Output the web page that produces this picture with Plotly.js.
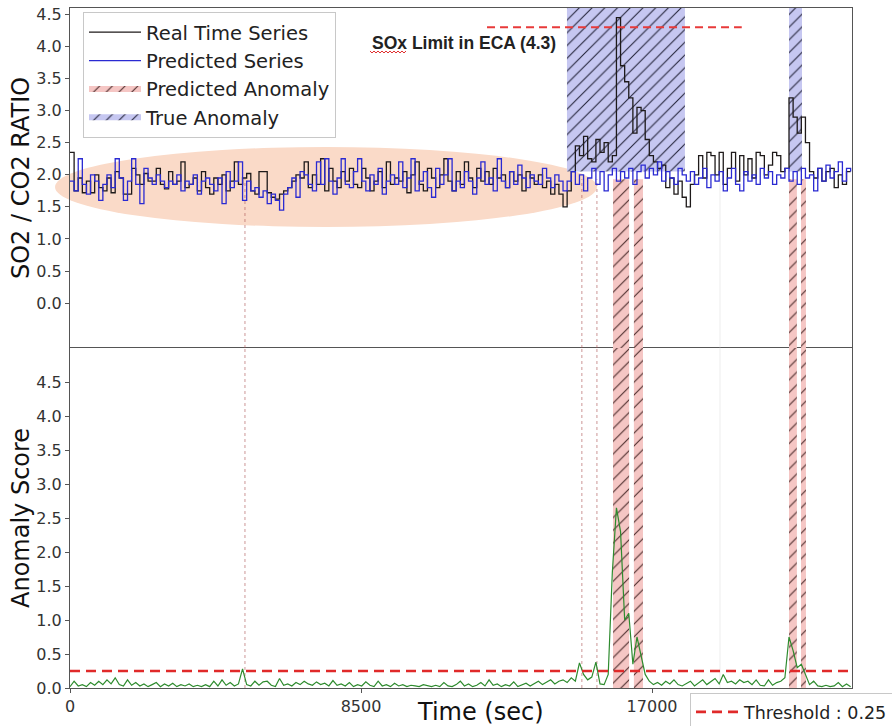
<!DOCTYPE html>
<html>
<head>
<meta charset="utf-8">
<script src="https://cdn.plot.ly/plotly-3.0.1.min.js"></script>
<style>
  html, body { margin: 0; padding: 0; background: #fff; }
  #chart { width: 892px; height: 726px; }
</style>
</head>
<body>
<div id="chart"></div>
<script>
// Sampling interval of the SO2/CO2 logger (seconds between readings)
const SAMPLE_SEC = 120;

// Measured SO2/CO2 ratio
const realSeries = [
  2.35, 1.75, 1.95, 1.72, 1.9, 1.72, 2.0, 1.8, 1.75, 1.95,
  1.72, 2.05, 1.95, 1.7, 1.7, 2.1, 2.0, 1.85, 2.02, 1.9,
  1.9, 2.1, 1.85, 1.78, 2.05, 1.85, 1.9, 2.2, 1.8, 1.85,
  1.95, 1.75, 2.05, 1.8, 1.7, 1.95, 1.85, 2.0, 1.75, 1.9,
  2.2, 1.85, 1.95, 2.02, 1.75, 1.7, 2.05, 2.05, 1.72, 1.65,
  1.62, 1.7, 1.75, 1.8, 1.9, 2.0, 1.95, 2.2, 1.8, 2.0,
  1.85, 2.25, 1.75, 2.1, 1.9, 1.8, 2.05, 1.9, 2.1, 1.85,
  1.8, 2.1, 1.95, 1.75, 1.9, 2.05, 1.8, 2.2, 1.85, 1.95,
  1.9, 2.05, 1.72, 2.0, 2.2, 1.85, 1.75, 2.1, 1.95, 1.8,
  2.0, 2.25, 1.9, 1.75, 2.05, 1.85, 2.2, 1.95, 1.8, 2.1,
  1.9, 2.05, 1.85, 2.1, 1.95, 2.0, 1.8, 2.05, 1.9, 2.0,
  1.75, 2.05, 1.95, 1.85, 2.0, 1.8, 1.9, 1.7, 1.85, 1.7,
  1.5, 1.75, 2.05, 2.45, 2.3, 2.6, 2.25, 2.2, 2.55, 2.35,
  2.5, 2.2, 2.3, 4.45, 3.7, 3.45, 3.2, 2.65, 3.05, 3.0,
  2.55, 2.3, 2.2, 2.1, 2.15, 1.8, 1.95, 1.7, 1.9, 1.65,
  1.5, 1.85, 2.0, 2.3, 1.95, 2.35, 2.3, 2.0, 2.35, 1.85,
  2.1, 2.35, 1.9, 2.3, 2.0, 2.25, 1.95, 2.35, 2.3, 2.0,
  2.15, 2.35, 2.3, 2.05, 2.1, 3.2, 2.9, 2.65, 2.9, 2.5,
  2.05, 1.95, 2.1, 1.9, 2.05, 2.1, 1.8, 2.0, 1.85, 2.05, 2.05
];

// Model prediction of the ratio
const predictedSeries = [
  1.9, 1.75, 2.25, 1.85, 1.7, 2.0, 1.9, 1.6, 1.85, 2.0,
  1.8, 2.25, 1.95, 1.6, 1.9, 2.25, 1.85, 1.55, 2.1, 1.95,
  1.85, 2.0, 1.9, 1.8, 1.9, 1.85, 2.0, 1.75, 1.9, 1.85,
  2.0, 1.7, 1.9, 1.95, 1.85, 1.75, 1.95, 1.55, 2.05, 1.8,
  1.9, 2.2, 1.6, 1.9, 1.75, 1.8, 1.65, 1.75, 1.55, 1.7,
  1.6, 1.45, 1.7, 1.8, 1.95, 1.65, 2.05, 2.0, 1.85, 1.75,
  2.2, 1.85, 2.25, 1.9, 1.7, 1.95, 2.25, 1.85, 1.8, 2.05,
  2.25, 1.9, 1.75, 2.0, 1.85, 2.1, 1.7, 1.9, 2.0, 1.85,
  2.2, 1.8, 1.95, 2.25, 1.75, 1.9, 2.05, 1.8, 1.65, 2.1,
  1.85, 2.0, 2.25, 1.75, 1.9, 1.8, 2.05, 1.9, 1.7, 1.95,
  2.2, 1.85, 1.95, 1.75, 2.25, 1.9, 1.8, 2.05, 1.85, 2.15,
  1.95, 1.8, 2.0, 1.9, 1.85, 2.1, 1.95, 1.8, 2.0, 1.9,
  1.75, 1.9, 2.05, 1.85, 2.0, 1.75, 1.95, 2.1, 1.85, 2.05,
  1.75, 2.0, 2.1, 1.9, 2.05, 1.95, 2.1, 1.85, 2.05, 2.15,
  1.95, 2.1, 2.0, 2.2, 1.9, 2.05, 1.95, 1.85, 2.1, 2.0,
  1.9, 2.05, 1.85, 1.95, 2.1, 1.8, 2.0, 1.9, 2.05, 1.75,
  1.95, 2.1, 1.85, 1.75, 2.05, 1.9, 2.0, 1.85, 2.1, 1.95,
  2.05, 1.85, 2.0, 1.95, 2.1, 1.9, 2.05, 1.85, 2.1, 1.95,
  2.0, 1.75, 2.1, 1.9, 2.15, 1.95, 2.05, 2.2, 1.9, 2.1, 2.05
];

// Reconstruction-based anomaly score
const anomalyScore = [
  0.02, 0.1, 0.03, 0.05, 0.02, 0.08, 0.04, 0.1, 0.05, 0.12,
  0.06, 0.15, 0.05, 0.03, 0.12, 0.04, 0.08, 0.03, 0.06, 0.02,
  0.05, 0.08, 0.02, 0.06, 0.03, 0.07, 0.02, 0.05, 0.03, 0.06,
  0.02, 0.04, 0.02, 0.05, 0.02, 0.1, 0.03, 0.12, 0.04, 0.08,
  0.03, 0.06, 0.28, 0.05, 0.03, 0.1, 0.04, 0.09, 0.1, 0.04,
  0.02, 0.14, 0.04, 0.06, 0.03, 0.08, 0.05, 0.1, 0.06, 0.04,
  0.09, 0.05, 0.07, 0.03, 0.11, 0.04, 0.06, 0.03, 0.08, 0.02,
  0.05, 0.03, 0.09, 0.04, 0.02, 0.1, 0.03, 0.05, 0.02, 0.07,
  0.03, 0.05, 0.02, 0.04, 0.03, 0.02, 0.05, 0.03, 0.02, 0.04,
  0.02, 0.08, 0.03, 0.02, 0.05, 0.1, 0.03, 0.06, 0.02, 0.04,
  0.08, 0.03, 0.12, 0.04, 0.06, 0.02, 0.05, 0.03, 0.09, 0.02,
  0.04, 0.07, 0.03, 0.06, 0.1, 0.05, 0.08, 0.12, 0.06, 0.1,
  0.12, 0.08, 0.15, 0.1, 0.37, 0.2, 0.12, 0.16, 0.38, 0.06,
  0.05, 0.2, 1.7, 2.65, 2.3, 1.0, 1.1, 0.35, 0.75, 0.45,
  0.2, 0.1, 0.05, 0.08, 0.04, 0.1, 0.06, 0.12, 0.05, 0.03,
  0.06, 0.1, 0.03, 0.08, 0.12, 0.05, 0.1, 0.14, 0.06, 0.2,
  0.08, 0.1, 0.06, 0.12, 0.08, 0.1, 0.05, 0.12, 0.04, 0.03,
  0.12, 0.04, 0.08, 0.1, 0.15, 0.75, 0.55, 0.3, 0.35, 0.2,
  0.05, 0.1, 0.03, 0.02, 0.04, 0.02, 0.03, 0.08, 0.02, 0.06, 0.02
];

// Labelled and detected anomaly windows, [start, end] in seconds
const trueAnomalySpans = [[14515, 17960], [21000, 21380]];
const predictedAnomalySpans = [[15860, 16330], [16470, 16735], [21000, 21230], [21350, 21495]];
// Single-sample detections
const flaggedPoints = [5110, 14950, 15390];
const faintMarks = [18985];

const SOX_LIMIT = 4.3;
const soxLimitExtent = [12180, 19620];
const THRESHOLD = 0.25;

const xTicks = [0, 8500, 17000];
const ratioTicks = [0, 0.5, 1.0, 1.5, 2.0, 2.5, 3.0, 3.5, 4.0, 4.5];
const scoreTicks = [0, 0.5, 1.0, 1.5, 2.0, 2.5, 3.0, 3.5, 4.0, 4.5];

// ---- layout constants ----
const RATIO_RANGE = [-0.70, 4.60];
const SCORE_RANGE = [0, 5.0];
const X_RANGE = [0, 22840];
const TRUE_SPAN_FLOOR = 2.05;
const PRED_SPAN_TOP = 1.93;
const FONT = 'DejaVu Sans, Verdana, sans-serif';

const timeSec = realSeries.map((_, i) => i * SAMPLE_SEC);

// closed rectangles separated by gaps, for fill:'toself'
function spanPolys(spans, lo, hi) {
  const x = [], y = [];
  spans.forEach(([a, b]) => {
    x.push(a, a, b, b, a, null);
    y.push(lo, hi, hi, lo, lo, null);
  });
  return { x, y };
}
function vLines(xs, lo, hi) {
  const x = [], y = [];
  xs.forEach(t => { x.push(t, t, null); y.push(lo, hi, null); });
  return { x, y };
}

const trueTop = spanPolys(trueAnomalySpans, TRUE_SPAN_FLOOR, RATIO_RANGE[1]);
const predTop = spanPolys(predictedAnomalySpans, RATIO_RANGE[0], PRED_SPAN_TOP);
const predBottom = spanPolys(predictedAnomalySpans, SCORE_RANGE[0], SCORE_RANGE[1]);
const flagTop = vLines(flaggedPoints, RATIO_RANGE[0], PRED_SPAN_TOP);
const flagBottom = vLines(flaggedPoints, SCORE_RANGE[0], SCORE_RANGE[1]);
const faintTop = vLines(faintMarks, RATIO_RANGE[0], PRED_SPAN_TOP);
const faintBottom = vLines(faintMarks, SCORE_RANGE[0], SCORE_RANGE[1]);

const bluePattern = { shape: '/', fgcolor: '#23233a', bgcolor: '#c6c7f1', size: 9, solidity: 0.12 };
const pinkPattern = { shape: '/', fgcolor: '#4a2a2a', bgcolor: '#f5c6c4', size: 9, solidity: 0.12 };

const traces = [
  { x: trueTop.x, y: trueTop.y, xaxis: 'x2', yaxis: 'y2', type: 'scatter', mode: 'none',
    fill: 'toself', fillcolor: '#c6c7f1', fillpattern: bluePattern,
    name: 'True Anomaly', legendrank: 4, hoverinfo: 'skip' },
  { x: predTop.x, y: predTop.y, xaxis: 'x2', yaxis: 'y2', type: 'scatter', mode: 'none',
    fill: 'toself', fillcolor: '#f5c6c4', fillpattern: pinkPattern,
    name: 'Predicted Anomaly', legendrank: 3, hoverinfo: 'skip' },
  { x: predBottom.x, y: predBottom.y, xaxis: 'x', yaxis: 'y', type: 'scatter', mode: 'none',
    fill: 'toself', fillcolor: '#f5c6c4', fillpattern: pinkPattern,
    showlegend: false, hoverinfo: 'skip' },
  { x: flagTop.x, y: flagTop.y, xaxis: 'x2', yaxis: 'y2', type: 'scatter', mode: 'lines',
    line: { color: 'rgba(170,80,80,0.6)', width: 1, dash: 'dot' }, showlegend: false, hoverinfo: 'skip' },
  { x: flagBottom.x, y: flagBottom.y, xaxis: 'x', yaxis: 'y', type: 'scatter', mode: 'lines',
    line: { color: 'rgba(170,80,80,0.6)', width: 1, dash: 'dot' }, showlegend: false, hoverinfo: 'skip' },
  { x: faintTop.x, y: faintTop.y, xaxis: 'x2', yaxis: 'y2', type: 'scatter', mode: 'lines',
    line: { color: 'rgba(200,200,200,0.35)', width: 1 }, showlegend: false, hoverinfo: 'skip' },
  { x: faintBottom.x, y: faintBottom.y, xaxis: 'x', yaxis: 'y', type: 'scatter', mode: 'lines',
    line: { color: 'rgba(200,200,200,0.35)', width: 1 }, showlegend: false, hoverinfo: 'skip' },
  { x: timeSec, y: realSeries, xaxis: 'x2', yaxis: 'y2', type: 'scatter', mode: 'lines',
    line: { color: '#1e1a1a', width: 1.3, shape: 'hv' }, name: 'Real Time Series', legendrank: 1 },
  { x: timeSec, y: predictedSeries, xaxis: 'x2', yaxis: 'y2', type: 'scatter', mode: 'lines',
    line: { color: '#2a2ad2', width: 1.3, shape: 'hv' }, name: 'Predicted Series', legendrank: 2 },
  { x: soxLimitExtent, y: [SOX_LIMIT, SOX_LIMIT], xaxis: 'x2', yaxis: 'y2', type: 'scatter', mode: 'lines',
    line: { color: '#e83a3a', width: 2, dash: '8px,5px' }, showlegend: false, hoverinfo: 'skip' },
  { x: timeSec, y: anomalyScore, xaxis: 'x', yaxis: 'y', type: 'scatter', mode: 'lines',
    line: { color: '#2e8b2e', width: 1.2 }, showlegend: false },
  { x: X_RANGE, y: [THRESHOLD, THRESHOLD], xaxis: 'x', yaxis: 'y', type: 'scatter', mode: 'lines',
    line: { color: '#e02a2a', width: 2.6, dash: '10px,6px' },
    name: 'Threshold : ' + THRESHOLD, legend: 'legend2' }
];

// paper coordinates from pixel positions inside the 892x726 page
const M = { l: 70, r: 40, t: 8, b: 38, autoexpand: false };
const PW = 892 - M.l - M.r, PH = 726 - M.t - M.b;
const px = v => (v - M.l) / PW;
const py = v => (726 - M.b - v) / PH;

// red wavy underline under "SOx"
let squiggle = '';
for (let xp = 370, k = 0; xp <= 406; xp += 2, k++) {
  const yp = k % 2 === 0 ? 51 : 53;
  squiggle += (k === 0 ? 'M' : 'L') + px(xp).toFixed(5) + ',' + py(yp).toFixed(5) + ' ';
}

const axisLine = { showline: true, linecolor: '#555', linewidth: 1, mirror: true,
                   showgrid: false, zeroline: false };
const tickFont = { family: FONT, size: 16, color: '#333' };
const titleFont = { family: FONT, size: 24, color: '#111' };

const layout = {
  width: 892, height: 726,
  margin: M,
  paper_bgcolor: '#ffffff',
  plot_bgcolor: 'rgba(0,0,0,0)',
  font: { family: FONT, color: '#222' },
  showlegend: true,
  xaxis: Object.assign({}, axisLine, {
    domain: [0, 1], anchor: 'y', range: X_RANGE,
    tickvals: xTicks, ticktext: xTicks.map(String),
    ticks: 'outside', ticklen: 4, tickcolor: '#555', tickfont: tickFont
  }),
  yaxis: Object.assign({}, axisLine, {
    domain: [0, 0.5], anchor: 'x', range: SCORE_RANGE,
    tickvals: scoreTicks, ticktext: scoreTicks.map(v => v.toFixed(1)),
    ticks: 'outside', ticklen: 4, tickcolor: '#555', tickfont: tickFont
  }),
  // top panel: only its upper border line; the shared middle border comes from the lower axis
  xaxis2: {
    domain: [0, 1], anchor: 'y2', side: 'top', range: X_RANGE, matches: 'x',
    showline: true, linecolor: '#555', linewidth: 1, mirror: false,
    showgrid: false, zeroline: false, showticklabels: false, ticks: ''
  },
  yaxis2: Object.assign({}, axisLine, {
    domain: [0.5, 1], anchor: 'x2', range: RATIO_RANGE,
    tickvals: ratioTicks, ticktext: ratioTicks.map(v => v.toFixed(1)),
    ticks: 'outside', ticklen: 4, tickcolor: '#555', tickfont: tickFont
  }),
  legend: {
    x: px(83), y: py(12), xanchor: 'left', yanchor: 'top',
    bgcolor: 'rgba(255,255,255,0.85)', bordercolor: '#c8c8c8', borderwidth: 1,
    font: { family: FONT, size: 19.5, color: '#222' },
    itemwidth: 52,
    traceorder: 'normal'
  },
  legend2: {
    x: px(690), y: py(693), xanchor: 'left', yanchor: 'top',
    bgcolor: '#ffffff', bordercolor: '#c8c8c8', borderwidth: 1,
    font: { family: FONT, size: 17.5, color: '#222' },
    itemwidth: 43
  },
  shapes: [
    { type: 'circle', xref: 'paper', yref: 'paper', layer: 'below',
      x0: px(55), x1: px(597), y0: py(227), y1: py(147),
      fillcolor: '#fadac8', line: { width: 0 } },
    { type: 'path', xref: 'paper', yref: 'paper', path: squiggle,
      line: { color: '#e03030', width: 1 } }
  ],
  annotations: [
    { xref: 'paper', yref: 'paper', x: px(370), y: py(43), xanchor: 'left', yanchor: 'middle',
      text: '<b>SOx Limit in ECA (' + SOX_LIMIT + ')</b>', showarrow: false,
      font: { family: 'Liberation Sans, Arial, sans-serif', size: 17.5, color: '#222' } },
    { xref: 'paper', yref: 'paper', x: px(480), y: py(712), xanchor: 'center', yanchor: 'middle',
      text: 'Time (sec)', showarrow: false, font: titleFont },
    { xref: 'paper', yref: 'paper', x: px(21), y: py(178), xanchor: 'center', yanchor: 'middle',
      text: 'SO2 / CO2 RATIO', textangle: -90, showarrow: false, font: titleFont },
    { xref: 'paper', yref: 'paper', x: px(21), y: py(518), xanchor: 'center', yanchor: 'middle',
      text: 'Anomaly Score', textangle: -90, showarrow: false, font: titleFont }
  ]
};

Plotly.newPlot('chart', traces, layout, { staticPlot: true, displayModeBar: false });
</script>
</body>
</html>
